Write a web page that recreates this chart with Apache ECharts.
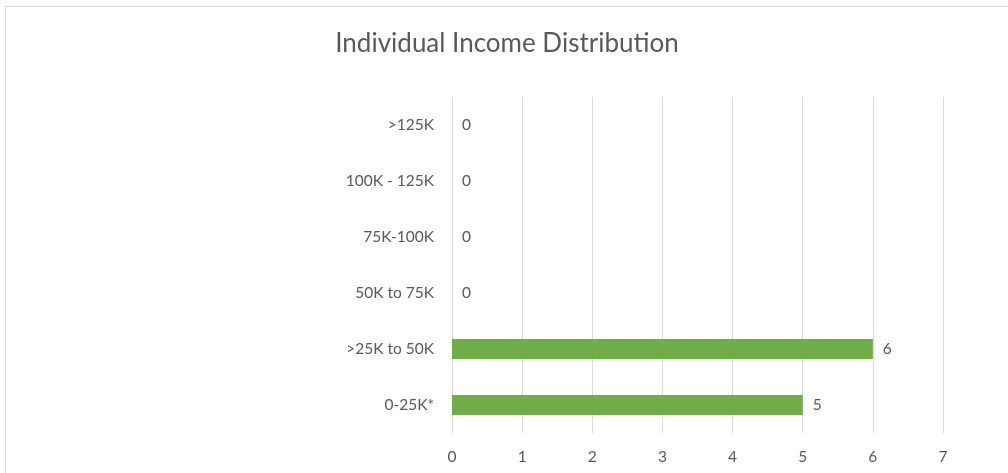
<!DOCTYPE html>
<html>
<head>
<meta charset="utf-8">
<script src="https://cdn.jsdelivr.net/npm/echarts@6/dist/echarts.min.js"></script>
<style>
  html, body { margin: 0; padding: 0; background: #fff; }
  #frame { position: absolute; left: 5px; top: 6px; width: 1100px; height: 600px;
           border-top: 1px solid #d9d9d9; border-left: 1px solid #d9d9d9; }
  #chart { position: absolute; left: 0; top: 0; width: 1008px; height: 473px; }
</style>
</head>
<body>
<div id="frame"></div>
<div id="chart"></div>
<script>
// income brackets, bottom to top
var categories = ['0-25K*', '>25K to 50K', '50K to 75K', '75K-100K', '100K - 125K', '>125K'];
var counts = [5, 6, 0, 0, 0, 0];
var xTicks = [0, 1, 2, 3, 4, 5, 6, 7];

var font = 'Lato, "Open Sans", sans-serif';
var grey = '#595959';

var option = {
  animation: false,
  title: {
    text: 'Individual Income Distribution',
    left: 502, top: 26, textAlign: 'center',
    textStyle: { fontFamily: font, fontSize: 26, fontWeight: 'normal', color: grey }
  },
  grid: { left: 452, right: 65, top: 97, bottom: 40 },
  xAxis: {
    type: 'value',
    min: xTicks[0], max: xTicks[xTicks.length - 1], interval: 1,
    axisLine: { show: false },
    axisTick: { show: false },
    axisLabel: { color: grey, fontFamily: font, fontSize: 15.5, margin: 16 },
    splitLine: { lineStyle: { color: '#d9d9d9', width: 1 } }
  },
  yAxis: {
    type: 'category',
    data: categories,
    axisLine: { show: false },
    axisTick: { show: false },
    axisLabel: { color: grey, fontFamily: font, fontSize: 15.5, margin: 18 }
  },
  series: [{
    type: 'bar',
    data: counts,
    barWidth: 20,
    itemStyle: { color: '#70ad47' },
    label: {
      show: true, position: 'right', distance: 10,
      color: grey, fontFamily: font, fontSize: 15.5
    }
  }]
};

echarts.init(document.getElementById('chart')).setOption(option);
</script>
</body>
</html>
